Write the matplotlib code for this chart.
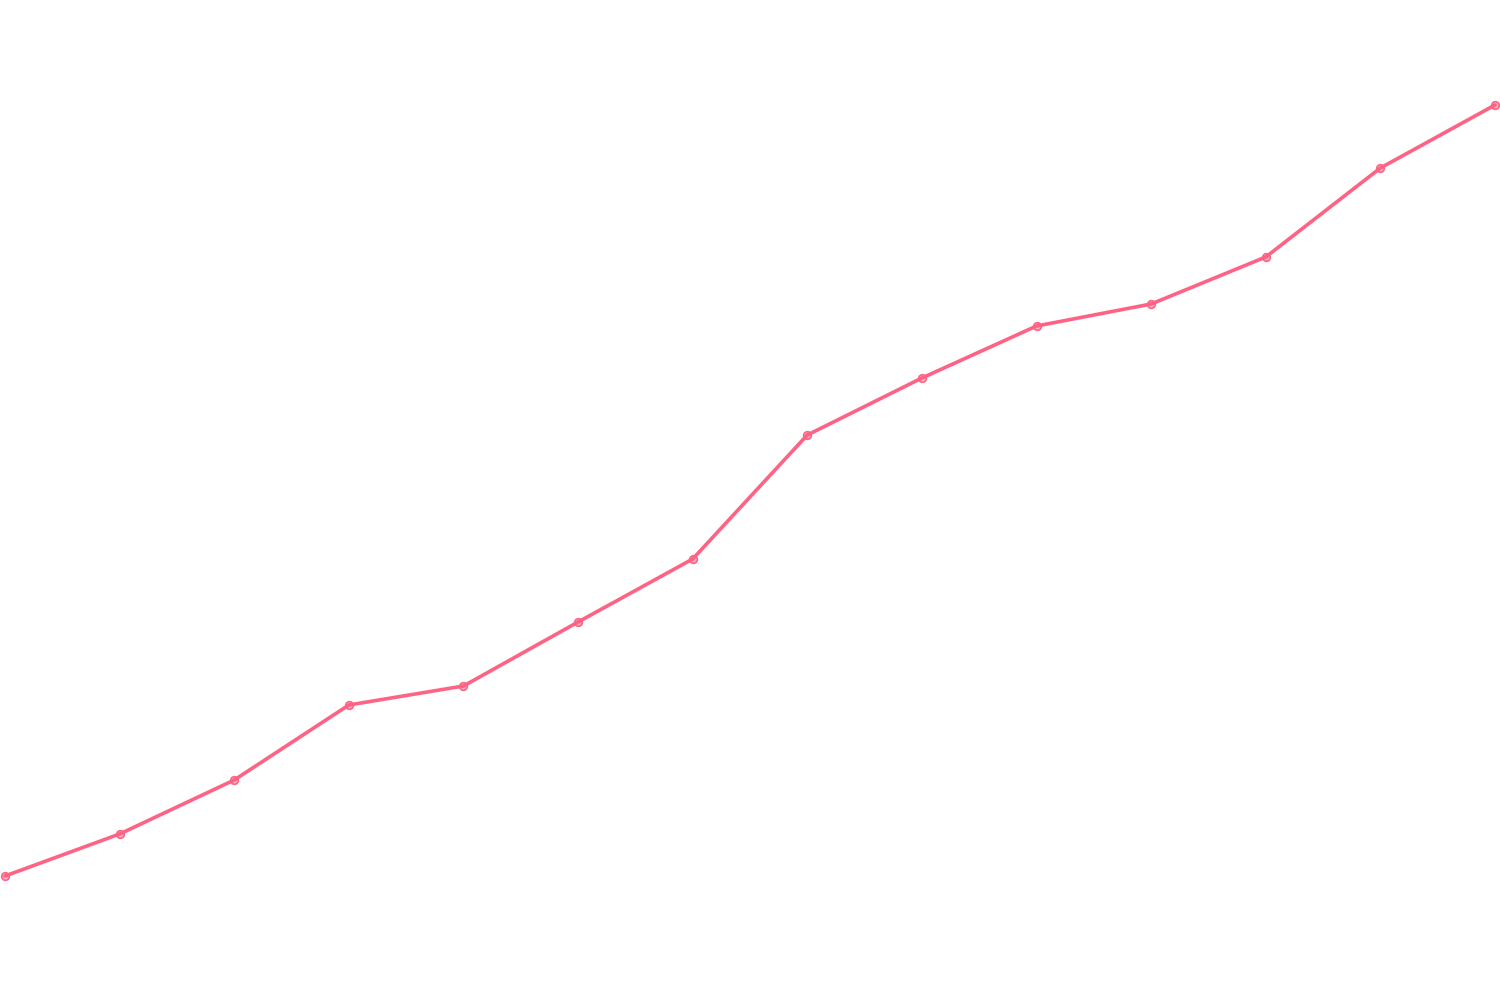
import matplotlib
matplotlib.use("Agg")
import matplotlib.pyplot as plt

# values (no axis shown, arbitrary scale 0-100)
labels = list(range(1, 15))
values = [12.4, 16.6, 22.0, 29.5, 31.4, 37.8, 44.1, 56.5, 62.2, 67.4, 69.6, 74.3, 83.2, 89.5]

line_color = "#ff6384"

fig = plt.figure(figsize=(15, 10), dpi=100)
ax = fig.add_axes([0, 0, 1, 1])

x = list(range(len(labels)))
ax.plot(x, values, color=line_color, linewidth=2.6, solid_capstyle="round",
        marker="o", markersize=5.5, markerfacecolor=(1.0, 0.39, 0.52, 0.5),
        markeredgecolor=line_color, markeredgewidth=1.2)

pad = 5 / 114.6
ax.set_xlim(-pad, len(labels) - 1 + pad)
ax.set_ylim(0, 100)
ax.axis("off")

fig.savefig("out.png", dpi=100, facecolor="white")
